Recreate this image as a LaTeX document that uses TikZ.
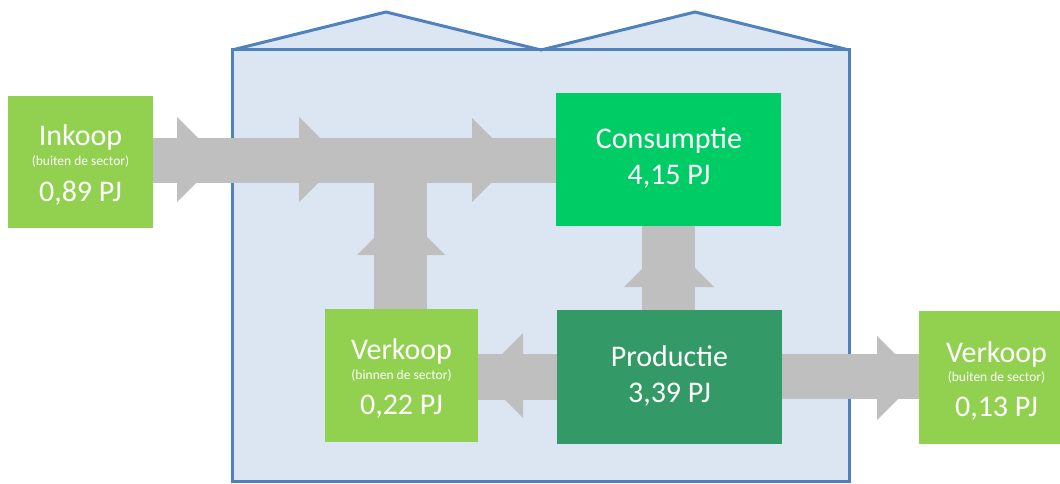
\documentclass[tikz,border=0pt]{standalone}
\usepackage{fontspec}
\setmainfont{Carlito}
\definecolor{lgreen}{HTML}{92D050}
\definecolor{cgreen}{HTML}{00CC66}
\definecolor{pgreen}{HTML}{339966}
\definecolor{flowgray}{HTML}{BFBFBF}
\definecolor{bfill}{HTML}{DCE6F2}
\definecolor{bline}{HTML}{4F81BD}
\pgfdeclarelayer{back}
\pgfdeclarelayer{mid}
\pgfsetlayers{back,mid,main}
\begin{document}
\begin{tikzpicture}[x=1pt,y=-1pt,
  box/.style={draw=none,inner sep=0pt,rectangle},
  big/.style={anchor=base,inner sep=0pt,text=white,font=\fontsize{30}{30}\selectfont},
  small/.style={anchor=base,inner sep=0pt,text=white,font=\fontsize{13.5}{13.5}\selectfont},
  flow/.style={draw=flowgray,line cap=butt},
  head/.style={fill=flowgray,draw=none}]
\useasboundingbox (0,0) rectangle (1060,484);
% building
\begin{pgfonlayer}{back}
\fill[bfill] (232,50) -- (386,12) -- (541,50) -- (695,12) -- (849,50) -- (849,481.5) -- (232,481.5) -- cycle;
\draw[bline,line width=3pt,line join=miter] (232,50) -- (386,12) -- (541,50) -- (695,12) -- (849,50);
\draw[bline,line width=3pt] (232,50) rectangle (849,481.5);
\end{pgfonlayer}
% boxes
\node[box,fill=lgreen,minimum width=145pt,minimum height=132pt] (ink) at (80.5,162) {};
\node[box,fill=cgreen,minimum width=225pt,minimum height=133pt] (cons) at (668.5,159.5) {};
\node[box,fill=lgreen,minimum width=153pt,minimum height=133pt] (vbin) at (401.5,375.5) {};
\node[box,fill=pgreen,minimum width=225pt,minimum height=134pt] (prod) at (669.5,377) {};
\node[box,fill=lgreen,minimum width=155pt,minimum height=133pt] (vbuit) at (996.5,377.5) {};
% texts
\node[big] (inkA) at (80.5,146) {Inkoop};
\node[small] (inkB) at (80.5,165) {(buiten de sector)};
\node[big] (inkC) at (80.5,201) {0,89 PJ};
\node[big] (consA) at (669,149) {Consumptie};
\node[big] (consB) at (669,184) {4,15 PJ};
\node[big] (vbinA) at (401.5,359) {Verkoop};
\node[small] (vbinB) at (401.5,379) {(binnen de sector)};
\node[big] (vbinC) at (401.5,414) {0,22 PJ};
\node[big] (prodA) at (669.5,366) {Productie};
\node[big] (prodB) at (669.5,402) {3,39 PJ};
\node[big] (vbuitA) at (996.5,362) {Verkoop};
\node[small] (vbuitB) at (996.5,381) {(buiten de sector)};
\node[big] (vbuitC) at (996.5,416) {0,13 PJ};
% flows
\coordinate (tj) at (400.5,160.5);
\begin{pgfonlayer}{mid}
\draw[flow,line width=45pt] (ink.east |- tj) -- (cons.west |- tj);
\draw[flow,line width=53pt] (vbin.north -| tj) -- (tj);
\draw[flow,line width=53pt] (prod.north -| 668.5,0) -- (cons.south -| 668.5,0);
\draw[flow,line width=46pt] (prod.west) -- (prod.west -| vbin.east);
\draw[flow,line width=45pt] (prod.east |- 0,376.5) -- (vbuit.west |- 0,376.5);
% arrow heads
\fill[head] (177,117) -- (219.5,159.5) -- (177,202) -- cycle;
\fill[head] (299,117) -- (341.5,159.5) -- (299,202) -- cycle;
\fill[head] (472,118) -- (514,160) -- (472,202) -- cycle;
\fill[head] (357,255) -- (401,211) -- (445,255) -- cycle;
\fill[head] (624,287) -- (669,242) -- (714,287) -- cycle;
\fill[head] (523,333) -- (480.5,375.5) -- (523,418) -- cycle;
\fill[head] (877,336) -- (919,378) -- (877,420) -- cycle;
\end{pgfonlayer}
\end{tikzpicture}
\end{document}
